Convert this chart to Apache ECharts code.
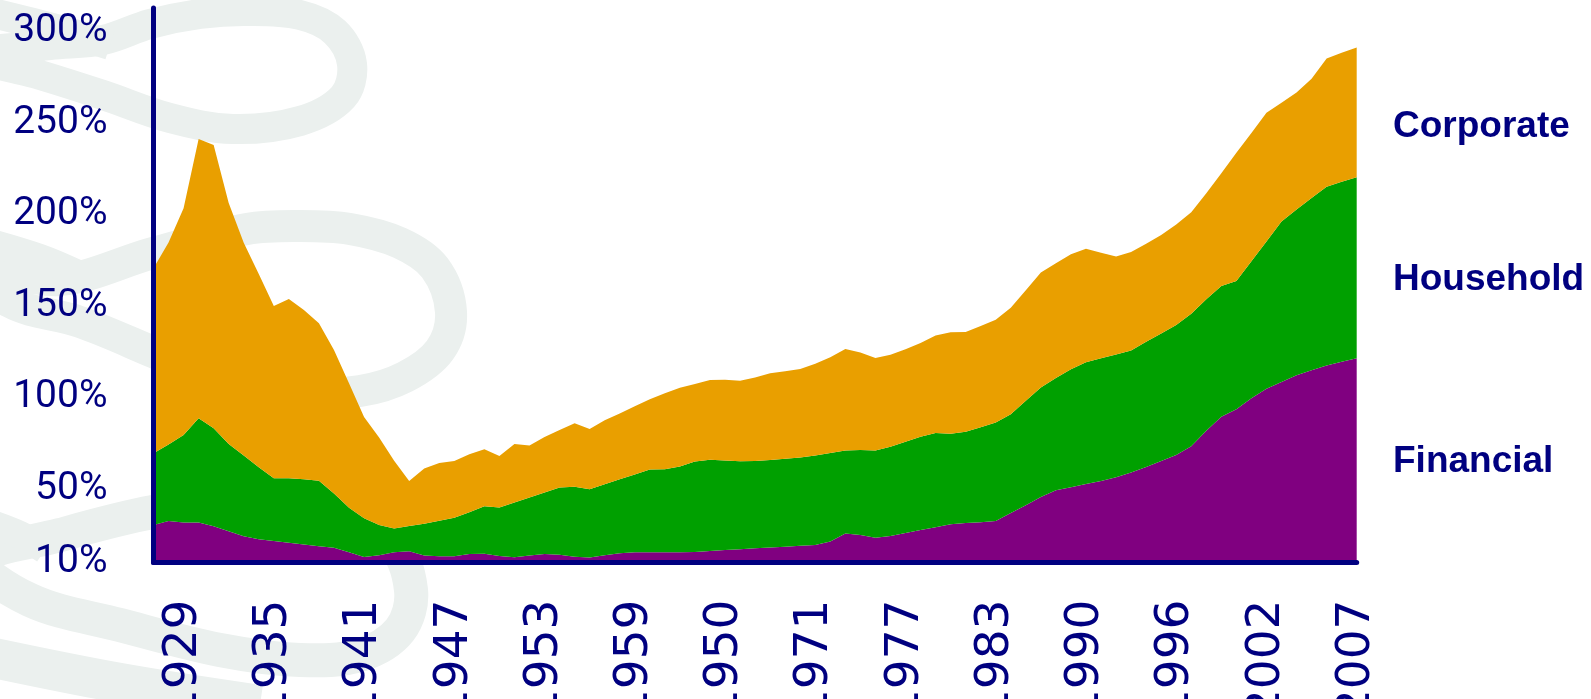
<!DOCTYPE html>
<html>
<head>
<meta charset="utf-8">
<title>Debt by sector</title>
<script src="https://cdn.jsdelivr.net/npm/echarts@6/dist/echarts.min.js"></script>
<style>
  html, body { margin: 0; padding: 0; background: #fff; }
  #main { width: 1591px; height: 699px; }
</style>
</head>
<body>
<div id="main"></div>
<script>
// one category per year, 1927 .. 2007
var years = [];
for (var yr = 1927; yr <= 2007; yr++) years.push(String(yr));

// tick labels as printed on the original (every 6th category, starting at index 2)
var tickLabels = ['1929', '1935', '1941', '1947', '1953', '1959', '1950', '1971', '1977', '1983', '1990', '1996', '2002', '2007'];
var yTicks = [10, 50, 100, 150, 200, 250, 300];

// % values (stacked)
var financial = [30.5, 32.7, 31.8, 31.8, 29.8, 27.1, 24.4, 22.7, 21.7, 20.8,
  19.8, 18.9, 18.0, 15.6, 13.0, 14.0, 15.6, 16.2, 13.8, 13.4,
  13.4, 14.6, 14.8, 13.6, 12.8, 13.8, 14.7, 14.3, 13.1, 12.7,
  13.9, 15.1, 15.6, 15.6, 15.6, 15.6, 15.7, 16.3, 16.8, 17.3,
  17.8, 18.2, 18.6, 19.1, 19.6, 21.4, 25.9, 25.0, 23.5, 24.5,
  26.1, 27.7, 29.3, 30.9, 31.6, 32.0, 32.7, 37.0, 41.3, 45.7,
  49.5, 51.1, 52.8, 54.5, 56.6, 59.2, 62.2, 65.4, 68.7, 73.5,
  82.0, 89.6, 93.7, 99.7, 104.9, 108.6, 112.3, 115.0, 117.6, 119.6,
  121.5];
var household = [39.1, 41.7, 47.8, 57.0, 53.5, 47.6, 44.0, 39.3, 34.3, 35.2,
  35.6, 35.8, 29.7, 24.3, 21.1, 16.5, 13.0, 13.7, 17.4, 19.4,
  21.0, 22.8, 25.9, 26.5, 30.0, 31.7, 33.5, 36.7, 38.2, 37.3,
  38.8, 40.3, 42.4, 45.2, 45.3, 46.8, 49.5, 49.8, 48.9, 48.0,
  47.6, 47.8, 48.1, 48.2, 48.8, 48.4, 45.3, 46.4, 47.6, 48.7,
  49.9, 51.0, 51.4, 49.4, 49.8, 51.9, 53.8, 54.0, 57.0, 59.8,
  61.3, 64.4, 66.6, 67.0, 67.0, 66.6, 68.3, 69.7, 71.0, 72.3,
  71.7, 71.4, 70.0, 74.8, 80.4, 87.6, 90.5, 94.0, 97.6, 98.3,
  98.9];
var corporate = [101.1, 110.4, 123.8, 152.5, 154.7, 131.6, 116.2, 105.6, 94.1, 97.9,
  92.5, 85.9, 78.4, 68.0, 55.4, 47.7, 36.9, 24.6, 30.1, 31.5,
  31.0, 31.7, 31.1, 28.1, 31.9, 28.4, 30.3, 31.3, 34.7, 32.9,
  35.0, 35.9, 37.3, 38.3, 41.5, 43.0, 42.3, 43.5, 44.1, 43.9,
  45.6, 47.3, 47.8, 48.4, 50.1, 52.3, 55.4, 53.3, 50.6, 50.3,
  50.4, 51.1, 53.3, 55.4, 54.5, 55.3, 56.1, 58.1, 60.4, 62.8,
  62.6, 62.8, 61.9, 57.7, 53.5, 53.8, 53.6, 53.7, 54.9, 55.5,
  58.0, 61.6, 70.0, 70.1, 70.3, 64.9, 63.8, 65.2, 70.0, 70.5,
  70.8];

var NAVY = '#000080';
var WM = '#EBF0EE';

function area(name, data, color) {
  return {
    name: name,
    type: 'line',
    stack: 'debt',
    data: data,
    symbol: 'none',
    silent: true,
    lineStyle: { width: 0 },
    itemStyle: { color: color },
    areaStyle: { color: color, opacity: 1 },
    emphasis: { disabled: true }
  };
}

// background swirl (decoration only)
function loop(points, width) {
  return { type: 'polygon', z: 0, silent: true, shape: { points: points, smooth: 0.35 },
    style: { fill: null, stroke: WM, lineWidth: width } };
}
function stroke(points, width) {
  return { type: 'polyline', z: 0, silent: true, shape: { points: points, smooth: 0.35 },
    style: { fill: null, stroke: WM, lineWidth: width } };
}
function sideLabel(text, y) {
  return { type: 'text', z: 10, x: 1393, y: y, silent: true,
    style: { text: text, fill: NAVY, font: 'bold 37px "Liberation Sans", Arial, sans-serif', verticalAlign: 'middle' } };
}

var chart = echarts.init(document.getElementById('main'));
chart.setOption({
  animation: false,
  backgroundColor: '#fff',
  grid: { left: 153.5, right: 234.3, top: 8, bottom: 136.5, containLabel: false, outerBoundsMode: 'none' },
  xAxis: {
    type: 'category',
    data: years,
    boundaryGap: false,
    z: 3,
    axisLine: { lineStyle: { color: NAVY, width: 5 } },
    axisTick: { show: false },
    splitLine: { show: false },
    axisLabel: {
      rotate: 90,
      margin: 37,
      padding: [14, 0, 0, 0],
      color: NAVY,
      fontFamily: '"DejaVu Sans", sans-serif',
      fontSize: 47,
      interval: function (i) { return (i - 2) % 6 === 0; },
      formatter: function (v, i) { return tickLabels[(i - 2) / 6]; }
    }
  },
  yAxis: {
    type: 'value',
    min: 10,
    max: 312.8,
    z: 3,
    axisLine: { show: true, lineStyle: { color: NAVY, width: 5 } },
    axisTick: { show: false },
    splitLine: { show: false },
    axisLabel: {
      customValues: yTicks,
      formatter: '{value}%',
      margin: 46,
      color: NAVY,
      fontFamily: 'Roboto, "Liberation Sans", sans-serif',
      fontSize: 39
    }
  },
  graphic: [
    loop([[-30, 55], [50, 45], [103, 40], [150, 24], [200, 14], [247, 11], [300, 15], [335, 32], [352, 64],
      [343, 97], [300, 121], [233, 129], [170, 118], [103, 95], [40, 75]], 30),
    stroke([[-20, 10], [60, 30], [110, 45]], 30),
    loop([[-20, 268], [60, 280], [153, 253], [247, 229], [300, 226], [350, 229], [400, 243], [435, 268], [451, 312],
      [440, 350], [405, 377], [360, 391], [300, 393], [230, 385], [153, 352], [80, 322], [10, 302]], 32),
    stroke([[-20, 240], [40, 258], [80, 275]], 28),
    loop([[-20, 560], [60, 535], [153, 512], [250, 500], [330, 510], [390, 540], [411, 590], [400, 630],
      [360, 655], [300, 660], [220, 650], [120, 625], [30, 600]], 34),
    stroke([[-20, 520], [20, 535], [45, 550]], 28),
    stroke([[-20, 655], [120, 683], [260, 705]], 40),
    sideLabel('Corporate', 127),
    sideLabel('Household', 280),
    sideLabel('Financial', 462)
  ],
  series: [
    area('Financial', financial, '#800080'),
    area('Household', household, '#00A000'),
    area('Corporate', corporate, '#E99F00')
  ]
});
</script>
</body>
</html>
